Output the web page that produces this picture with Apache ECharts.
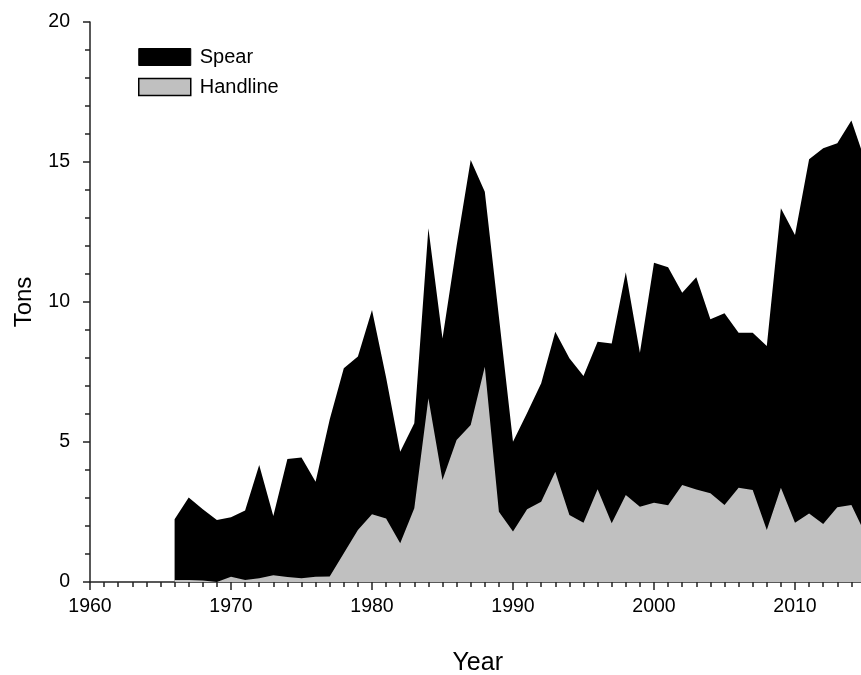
<!DOCTYPE html>
<html>
<head>
<meta charset="utf-8">
<style>
  html, body { margin: 0; padding: 0; background: #ffffff; }
  #chart { width: 861px; height: 675px; }
</style>
<script src="https://cdn.jsdelivr.net/npm/echarts@6/dist/echarts.min.js"></script>
</head>
<body>
<div id="chart"></div>
<script>
// ---- Data ----
const years = [
  1966, 1967, 1968, 1969, 1970, 1971, 1972, 1973, 1974, 1975,
  1976, 1977, 1978, 1979, 1980, 1981, 1982, 1983, 1984, 1985,
  1986, 1987, 1988, 1989, 1990, 1991, 1992, 1993, 1994, 1995,
  1996, 1997, 1998, 1999, 2000, 2001, 2002, 2003, 2004, 2005,
  2006, 2007, 2008, 2009, 2010, 2011, 2012, 2013, 2014, 2015
];
const handline = [
  0.07, 0.07, 0.05, 0.00, 0.19, 0.07, 0.13, 0.24, 0.18, 0.13,
  0.19, 0.20, 1.03, 1.86, 2.42, 2.27, 1.38, 2.63, 6.56, 3.64,
  5.07, 5.61, 7.69, 2.51, 1.80, 2.60, 2.87, 3.94, 2.39, 2.12,
  3.31, 2.10, 3.11, 2.69, 2.83, 2.74, 3.46, 3.30, 3.17, 2.75,
  3.37, 3.29, 1.86, 3.37, 2.12, 2.45, 2.07, 2.67, 2.75, 1.70
];
const spear = [
  2.17, 2.95, 2.55, 2.21, 2.12, 2.48, 4.05, 2.12, 4.21, 4.32,
  3.39, 5.60, 6.60, 6.19, 7.29, 5.03, 3.27, 3.04, 6.07, 5.06,
  6.93, 9.46, 6.25, 6.96, 3.21, 3.44, 4.23, 5.00, 5.60, 5.24,
  5.27, 6.42, 7.95, 5.50, 8.57, 8.50, 6.87, 7.58, 6.21, 6.85,
  5.53, 5.61, 6.57, 9.98, 10.27, 12.65, 13.42, 13.00, 13.73, 13.30
];
const seriesNames = ['Spear', 'Handline'];
const xTitle = 'Year';
const yTitle = 'Tons';

// Stacked areas: Spear sits on top of Handline (cumulative top of the stack)
const spearStackTop = years.map((y, i) => handline[i] + spear[i]);

const chart = echarts.init(document.getElementById('chart'), null, { renderer: 'canvas' });

const textFont = "'Liberation Sans', Arial, sans-serif";
const axisColor = '#222222';

const option = {
  animation: false,
  backgroundColor: '#ffffff',
  grid: { left: 90, top: 22, width: 775.5, height: 560, containLabel: false, outerBoundsMode: 'none' },
  legend: {
    orient: 'vertical',
    left: 133,
    top: 42,
    itemWidth: 52,
    itemHeight: 17,
    itemGap: 10,
    icon: 'rect',
    textStyle: { fontFamily: textFont, fontSize: 20, color: '#000', padding: [0, 0, 0, 4] },
    data: [
      { name: seriesNames[0], itemStyle: { color: '#000000', borderColor: '#000000', borderWidth: 1 } },
      { name: seriesNames[1], itemStyle: { color: '#c0c0c0', borderColor: '#000000', borderWidth: 1.5 } }
    ]
  },
  xAxis: {
    type: 'value',
    min: 1960,
    max: 2015,
    interval: 10,
    name: xTitle,
    nameLocation: 'middle',
    nameGap: 69,
    nameTextStyle: { fontFamily: textFont, fontSize: 25, color: '#000' },
    axisLine: { show: true, onZero: false, lineStyle: { color: axisColor, width: 1.5 } },
    axisTick: { show: true, inside: false, length: 8, lineStyle: { color: axisColor, width: 1.5 } },
    minorTick: { show: true, splitNumber: 10, length: 5, lineStyle: { color: axisColor, width: 1.5 } },
    axisLabel: {
      margin: 15,
      showMaxLabel: false,
      fontFamily: textFont, fontSize: 19.5, color: '#000',
      formatter: v => String(v)
    },
    splitLine: { show: false },
    minorSplitLine: { show: false }
  },
  yAxis: {
    type: 'value',
    min: 0,
    max: 20,
    interval: 5,
    name: yTitle,
    nameLocation: 'middle',
    nameGap: 54,
    nameTextStyle: { fontFamily: textFont, fontSize: 24, color: '#000' },
    axisLine: { show: true, lineStyle: { color: axisColor, width: 1.5 } },
    axisTick: { show: true, inside: false, length: 7, lineStyle: { color: axisColor, width: 1.5 } },
    minorTick: { show: true, splitNumber: 5, length: 5, lineStyle: { color: axisColor, width: 1.5 } },
    axisLabel: { margin: 20, fontFamily: textFont, fontSize: 19.5, color: '#000' },
    splitLine: { show: false },
    minorSplitLine: { show: false }
  },
  series: [
    {
      name: seriesNames[0],
      type: 'line',
      showSymbol: false,
      symbol: 'none',
      z: 2,
      lineStyle: { width: 0, color: '#000000' },
      itemStyle: { color: '#000000' },
      areaStyle: { color: '#000000', opacity: 1 },
      data: years.map((y, i) => [y, spearStackTop[i]])
    },
    {
      name: seriesNames[1],
      type: 'line',
      showSymbol: false,
      symbol: 'none',
      z: 3,
      lineStyle: { width: 0, color: '#c0c0c0' },
      itemStyle: { color: '#c0c0c0' },
      areaStyle: { color: '#c0c0c0', opacity: 1 },
      data: years.map((y, i) => [y, handline[i]])
    }
  ]
};

chart.setOption(option);
</script>
</body>
</html>
